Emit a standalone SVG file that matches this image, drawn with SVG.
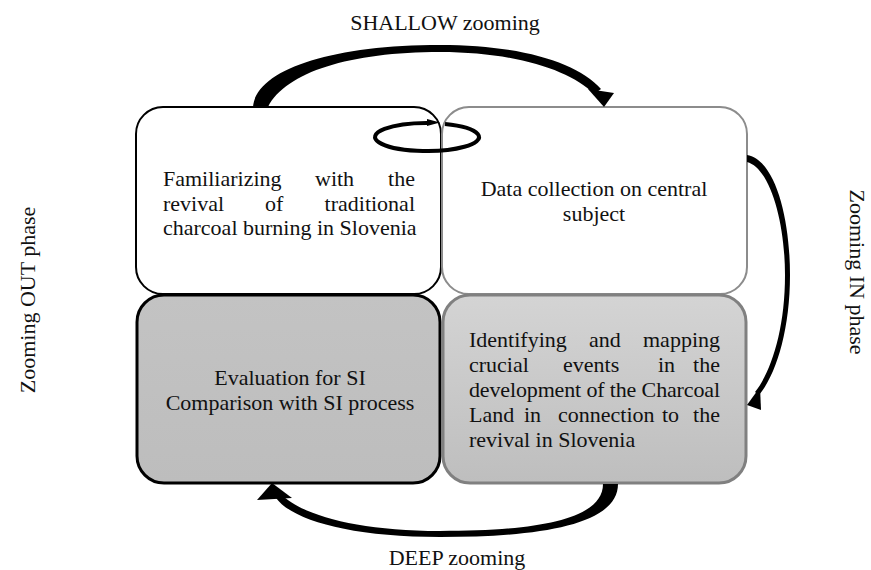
<svg xmlns="http://www.w3.org/2000/svg" width="871" height="570" viewBox="0 0 871 570">
<defs>
<linearGradient id="gl" x1="0" y1="0" x2="0" y2="1"><stop offset="0" stop-color="#c3c3c3"/><stop offset="1" stop-color="#bdbdbd"/></linearGradient>
<linearGradient id="gr" x1="0" y1="0" x2="0" y2="1"><stop offset="0" stop-color="#d4d4d4"/><stop offset="1" stop-color="#bebebe"/></linearGradient>
</defs>
<style>
text{font-family:"Liberation Serif","Times New Roman",serif;font-size:22px;fill:#111}
.c{text-anchor:middle}
.e{text-anchor:end}
.arr{fill:#000;stroke:none}
</style>
<rect width="871" height="570" fill="#fff"/>
<g id="node-familiarizing">
<rect x="136" y="107" width="305" height="187" rx="27" fill="#fff" stroke="#000" stroke-width="2"/>
<text x="163" y="186">Familiarizing</text><text x="315" y="186">with</text><text class="e" x="415" y="186">the</text>
<text x="163" y="210.5">revival</text><text x="265" y="210.5">of</text><text class="e" x="415" y="210.5">traditional</text>
<text x="163" y="235">charcoal burning in Slovenia</text>
</g>
<g id="node-data">
<rect x="442" y="107" width="305" height="187" rx="27" fill="#fff" stroke="#8c8c8c" stroke-width="2"/>
<text class="c" x="594" y="196">Data collection on central</text>
<text class="c" x="594" y="221">subject</text>
</g>
<g id="node-evaluation">
<rect x="137" y="295" width="303" height="188" rx="27" fill="url(#gl)" stroke="#000" stroke-width="3"/>
<text class="c" x="290" y="385">Evaluation for SI</text>
<text class="c" x="290" y="410">Comparison with SI process</text>
</g>
<g id="node-identifying">
<rect x="443" y="295" width="303" height="188" rx="27" fill="url(#gr)" stroke="#808080" stroke-width="3"/>
<text x="469" y="347">Identifying</text><text x="589" y="347">and</text><text class="e" x="720" y="347">mapping</text>
<text x="469" y="372">crucial</text><text x="563" y="372">events</text><text x="658" y="372">in</text><text class="e" x="720" y="372">the</text>
<text x="469" y="397" textLength="251" lengthAdjust="spacing">development of the Charcoal</text>
<text x="469" y="422">Land</text><text x="524" y="422">in</text><text x="558" y="422">connection</text><text x="662" y="422">to</text><text class="e" x="720" y="422">the</text>
<text x="469" y="447">revival in Slovenia</text>
</g>
<g id="connectors">
<path class="arr" d="M253,107 C256,70 330,45 440,45 C520,45 577,62 601,89 L594,94 C570,70 515,52 440,52 C350,52 286,72 268,107 Z"/>
<polygon class="arr" points="588,89 614,93 604,107"/>
<path class="arr" d="M747,155 C776,160 790,220 790,275 C790,330 776,375 759,395 L755,392 C771,372 785,330 785,275 C785,222 770,168 747,162 Z"/>
<polygon class="arr" points="747,405 760,387 761,410"/>
<path class="arr" d="M618,484 C618,525 540,537 440,537 C350,537 292,520 276,498 L281,494 C300,514 355,531 440,531 C535,531 603,520 603,484 Z"/>
<polygon class="arr" points="257,500 272,483 292,498"/>
<path d="M445,123.9 A52,14 0 1,1 429,123.05" fill="none" stroke="#000" stroke-width="4"/>
<polygon class="arr" points="427,119 440,122.5 427,126"/>
</g>
<g id="labels">
<text class="c" x="445" y="30">SHALLOW zooming</text>
<text class="c" x="457" y="565">DEEP zooming</text>
<text class="c" transform="translate(35,300) rotate(-90)">Zooming OUT phase</text>
<text class="c" transform="translate(850,272) rotate(90)">Zooming IN phase</text>
</g>
</svg>
